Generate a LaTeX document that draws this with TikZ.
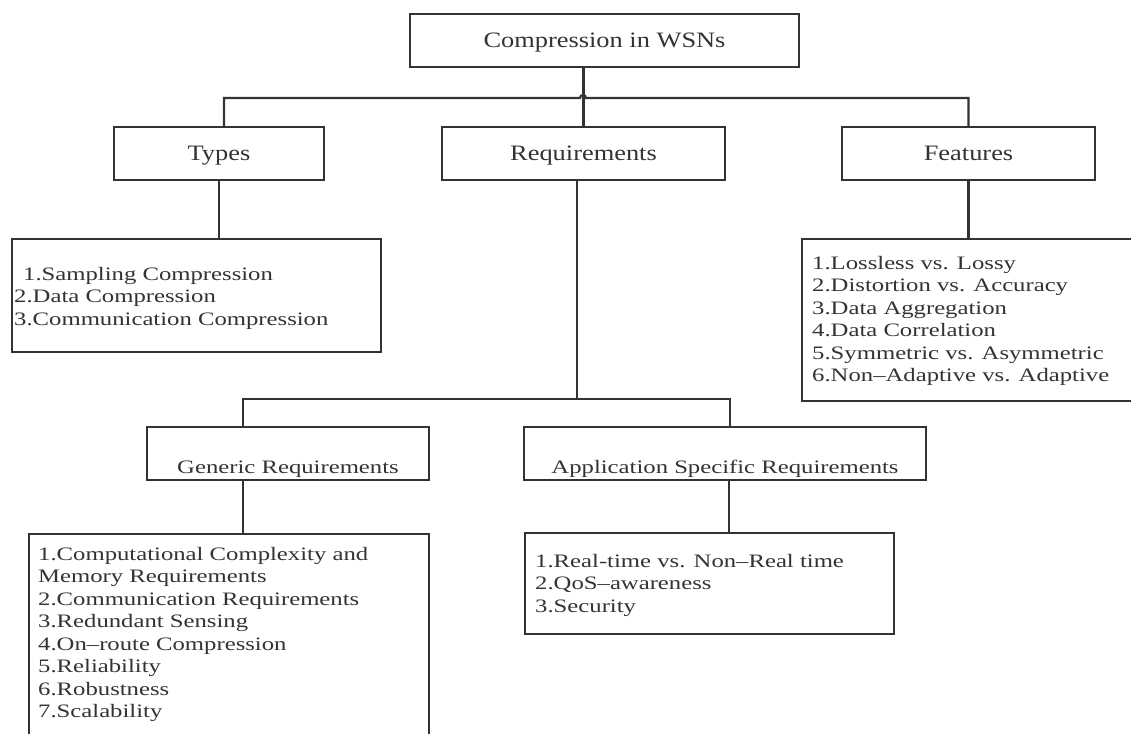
\documentclass[tikz,border=0pt]{standalone}
\usepackage{fontspec}
\setmainfont[FakeStretch=1.3]{Liberation Serif}
\newfontfamily\topfont[FakeStretch=1.2]{Liberation Serif}
\definecolor{ink}{HTML}{333333}
\begin{document}
\begin{tikzpicture}[x=1pt,y=-1pt,
  box/.style={draw=ink, line width=2.2pt, rectangle, inner sep=0pt, text=ink},
  topbox/.style={box, anchor=north, text height=33pt, text depth=20pt, font=\topfont\fontsize{22}{26}\selectfont},
  midbox/.style={box, anchor=north, text height=46pt, text depth=7pt, font=\fontsize{19}{22.5}\selectfont},
  listbox/.style={box, anchor=north west},
  listtext/.style={font=\fontsize{19}{22.5}\selectfont, text=ink, align=left, inner sep=0pt, anchor=base west},
  conn/.style={draw=ink, line width=2.2pt}
]
\useasboundingbox[fill=white] (0,0) rectangle (1131,733);

% top level
\node[topbox, minimum width=389pt] (root) at (604.5,13) {Compression in WSNs};
\node[topbox, minimum width=210pt] (types) at (219,126) {Types};
\node[topbox, minimum width=283pt] (req) at (583.5,126) {Requirements};
\node[topbox, minimum width=253pt] (feat) at (968.5,126) {Features};

% requirement children
\node[midbox, minimum width=282pt] (gen) at (288,426) {Generic Requirements};
\node[midbox, minimum width=402pt] (app) at (725,426) {Application Specific Requirements};

% list boxes
\node[listbox, minimum width=369pt, minimum height=113pt] (tlist) at (11,238) {};
\node[listbox, minimum width=345pt, minimum height=162pt] (flist) at (801,238) {};
\node[listbox, minimum width=400pt, minimum height=230pt] (glist) at (28,533) {};
\node[listbox, minimum width=369pt, minimum height=101pt] (alist) at (524,532) {};

% list texts (anchored at the baseline of their last line)
\node[listtext] (ttxt) at (14,325) {\hspace{9pt}1.Sampling Compression\\2.Data Compression\\3.Communication Compression};
\node[listtext] (ftxt) at (812,381.5) {1.Lossless vs. Lossy\\2.Distortion vs. Accuracy\\3.Data Aggregation\\4.Data Correlation\\5.Symmetric vs. Asymmetric\\6.Non–Adaptive vs. Adaptive};
\node[listtext] (gtxt) at (38,717.5) {1.Computational Complexity and\\Memory Requirements\\2.Communication Requirements\\3.Redundant Sensing\\4.On–route Compression\\5.Reliability\\6.Robustness\\7.Scalability};
\node[listtext] (atxt) at (535,612) {1.Real-time vs. Non–Real time\\2.QoS–awareness\\3.Security};

% connectors
\coordinate (hopL) at (580,98);
\coordinate (jr) at (577,399);
\draw[conn] (req.north) -- (req.north |- root.south);
\draw[conn] ([xshift=5pt]types.north) |- (hopL) arc[start angle=180, end angle=360, radius=3] -| (feat.north);
\draw[conn] (types.south) -- (types.south |- tlist.north);
\draw[conn] (feat.south) -- (feat.south |- flist.north);
\draw[conn] ([xshift=-6.5pt]req.south) -- (jr);
\draw[conn] ([xshift=-45pt]gen.north) |- (jr) -| ([xshift=5pt]app.north);
\draw[conn] ([xshift=-45pt]gen.south) -- ([xshift=-45pt]gen.south |- glist.north);
\draw[conn] ([xshift=4pt]app.south) -- ([xshift=4pt]app.south |- alist.north);
\end{tikzpicture}
\end{document}
